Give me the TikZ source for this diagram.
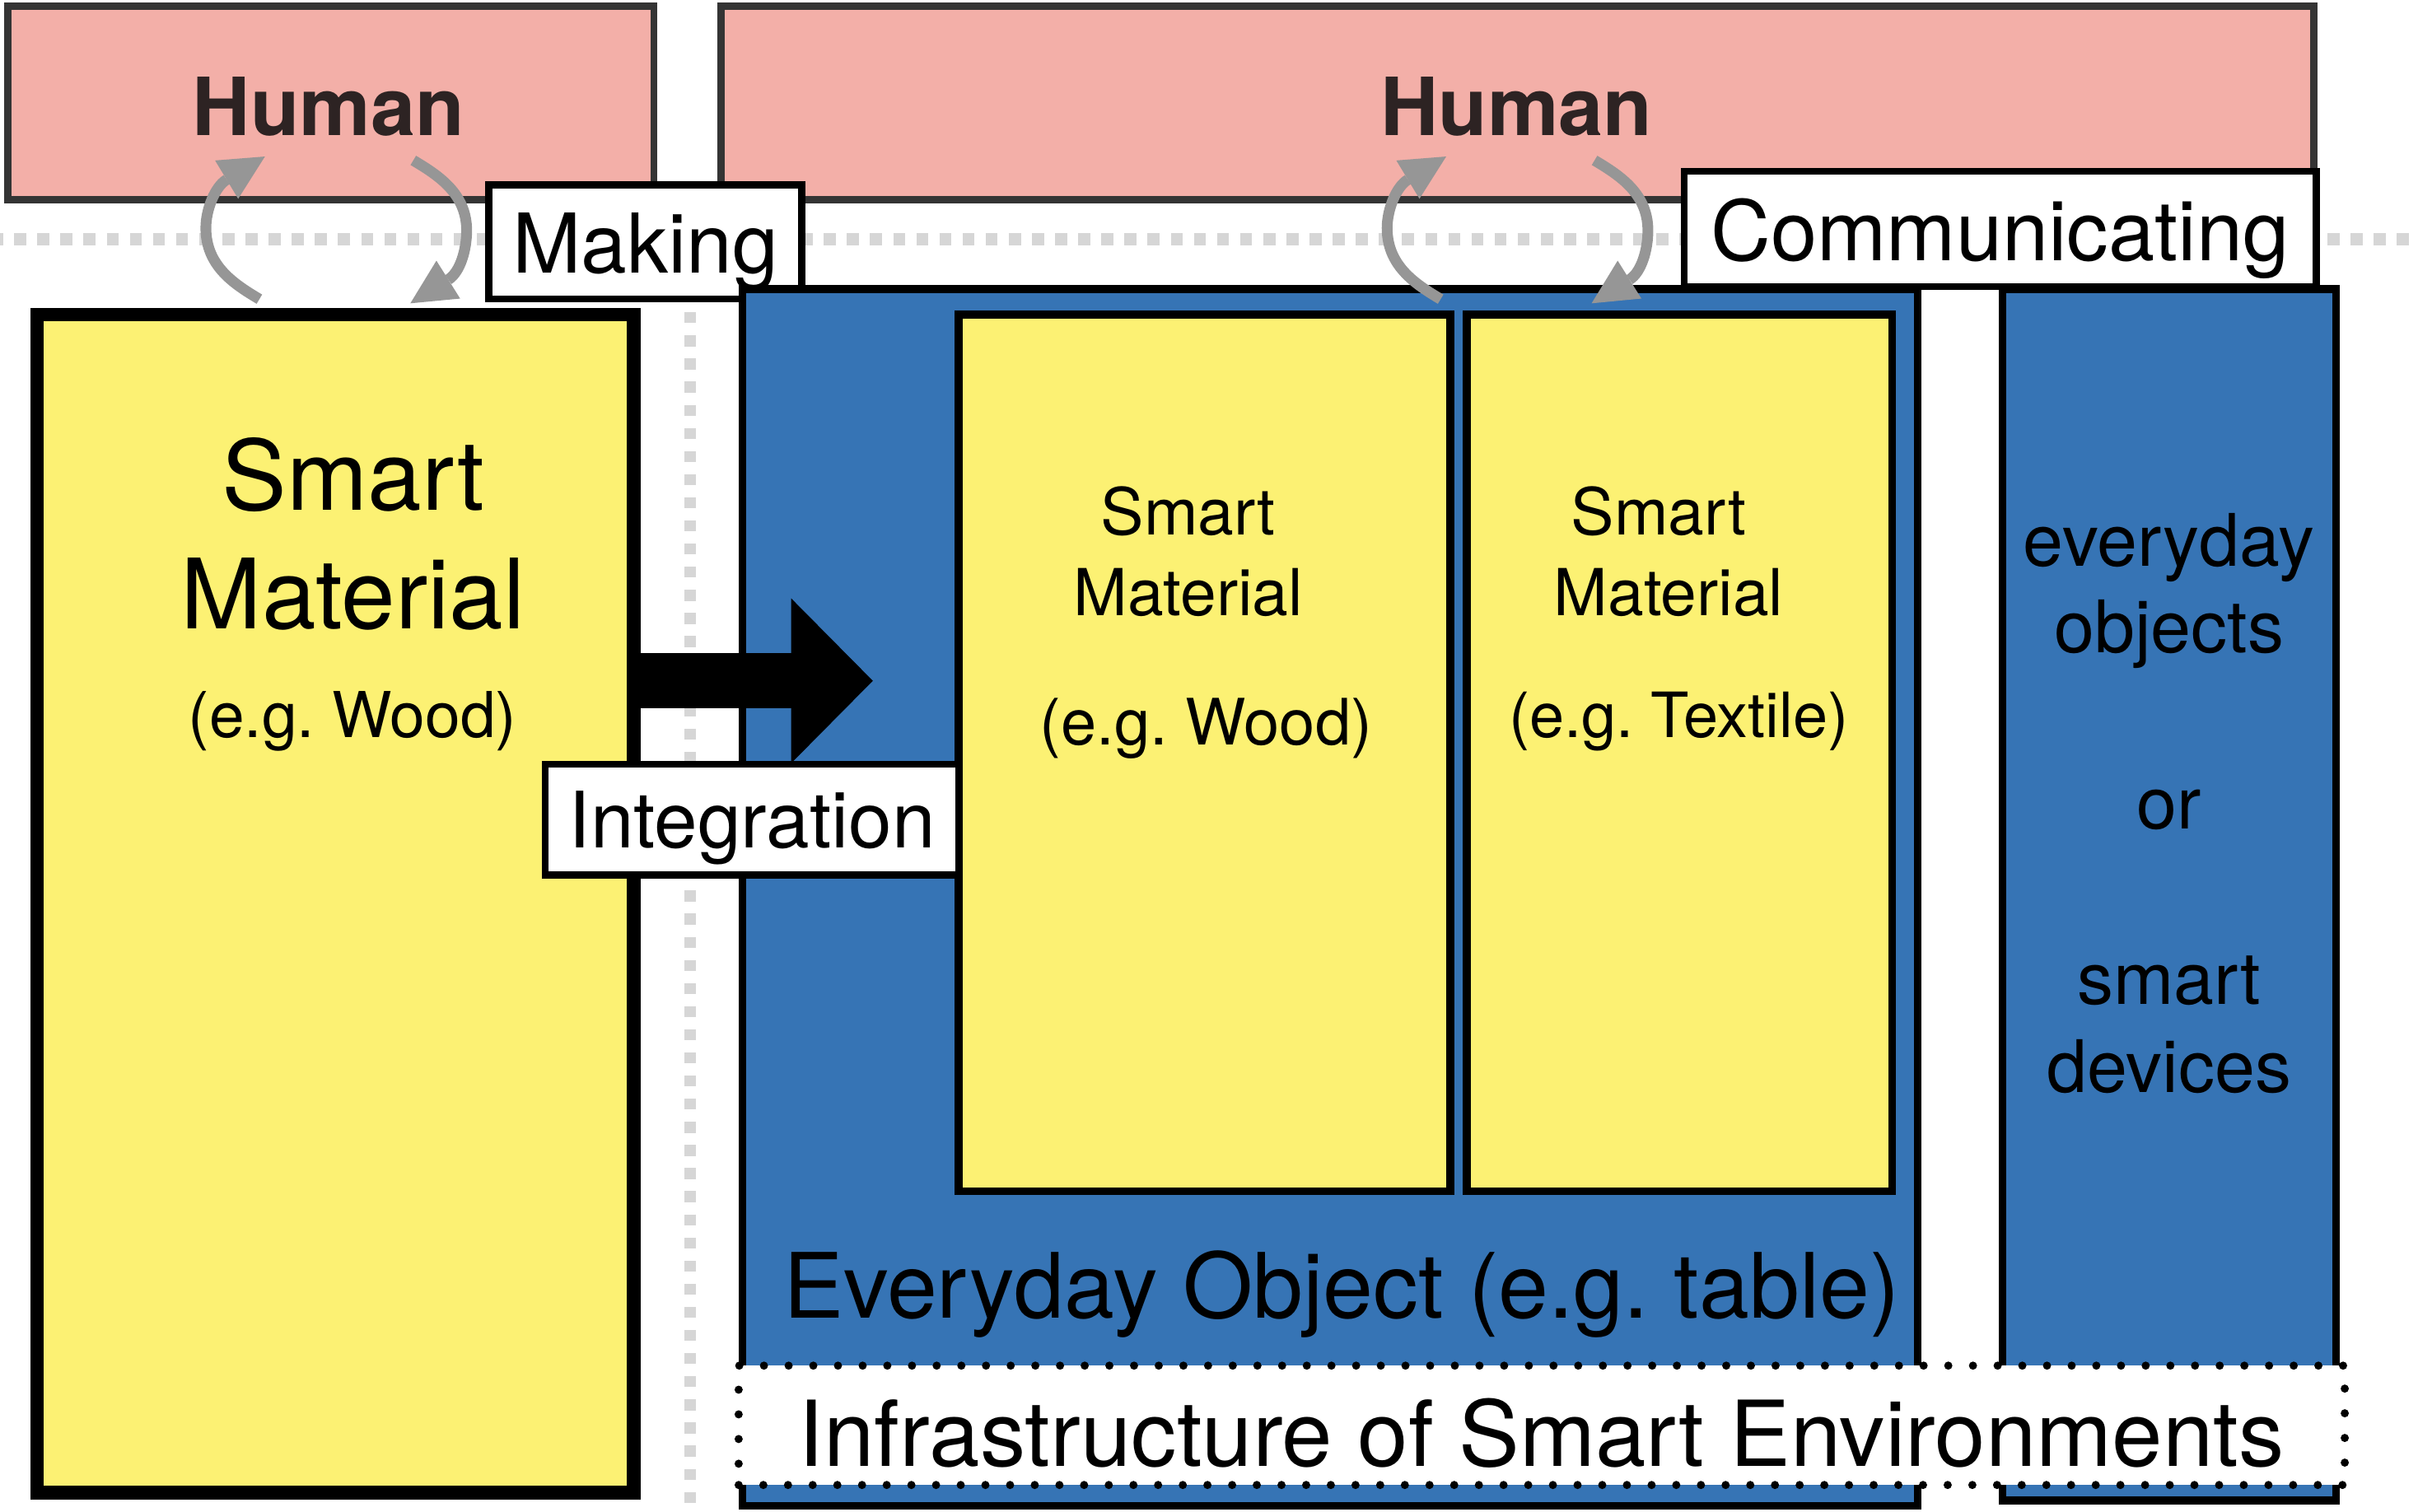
\documentclass[tikz,border=0pt]{standalone}
\usepackage{fontspec}
\setmainfont{TeX Gyre Heros}
\usetikzlibrary{arrows.meta}
\frenchspacing
\definecolor{humanpink}{HTML}{F3AFA8}
\definecolor{humanedge}{HTML}{343434}
\definecolor{humantext}{HTML}{2D2323}
\definecolor{matyellow}{HTML}{FCF173}
\definecolor{objblue}{HTML}{3674B5}
\definecolor{cycgray}{HTML}{969696}
\definecolor{sepgray}{HTML}{D6D6D6}
\begin{document}
\frenchspacing
\begin{tikzpicture}[x=1pt,y=-1pt,
  fs/.style={font=\fontsize{#1pt}{#1pt}\selectfont},
  fsb/.style={font=\fontsize{#1pt}{#1pt}\selectfont\bfseries},
  plainbox/.style={draw, rectangle, inner sep=0pt, outer sep=0pt},
  humanbox/.style={plainbox, fill=humanpink, draw=humanedge, line width=4.7pt},
  labelbox/.style={plainbox, fill=white, draw=black, line width=4.5pt},
  matbox/.style={plainbox, fill=matyellow, draw=black},
  objbox/.style={plainbox, fill=objblue, draw=black, line width=5pt},
  infrabox/.style={plainbox, fill=white, draw=black, line width=5.3pt, line cap=round, dash pattern=on 0pt off 16pt},
  txt/.style={anchor=base, inner sep=0pt, text=black},
  sepline/.style={draw=sepgray, line width=7.8pt},
  cyc/.style={draw=cycgray, line width=7pt, -{Triangle[length=29pt,width=29pt,line width=0pt]}},
  bigarrow/.style={draw=black, line width=36pt, -{Triangle[length=53pt,width=107pt,line width=0pt]}}
]
\useasboundingbox (0,0) rectangle (1568,980.5);

% separator lines
\draw[sepline, dash pattern=on 7.8pt off 7.2pt, dash phase=5.8pt] (0,155.3) -- (1568,155.3);
\draw[sepline, line width=7.5pt, dash pattern=on 7.1pt off 7.9pt, dash phase=12.5pt] (447.5,200) -- (447.5,975);

% human boxes
\node[humanbox, minimum width=419pt, minimum height=125.5pt] (humanBoxL) at (214.5,66.75) {};
\node[humanbox, minimum width=1033pt, minimum height=125.5pt] (humanBoxR) at (984,66.75) {};

% label boxes on top
\node[labelbox, minimum width=203pt, minimum height=74pt] (makingBox) at (418.5,157) {};
\node[labelbox, minimum width=410pt, minimum height=75pt] (commBox) at (1297,148.5) {};

% left smart material
\node[matbox, line width=9pt, minimum width=387pt, minimum height=764pt] (matBox) at (217.5,586) {};

% everyday object and devices
\node[objbox, minimum width=762pt, minimum height=789pt] (objBox) at (862.5,582) {};
\node[objbox, minimum width=216.4pt, minimum height=785.5pt] (devBox) at (1406.8,580.25) {};

% inner smart materials
\node[matbox, line width=5.3pt, minimum width=319pt, minimum height=568.5pt] (woodBox) at (781,488.25) {};
\node[matbox, line width=5.3pt, minimum width=276pt, minimum height=568.5pt] (textileBox) at (1089,488.25) {};

% integration arrow
\coordinate (integStart) at (411,441.5);
\coordinate (integTip) at (566,441.5);
\draw[bigarrow] (integStart) -- (integTip);
\node[labelbox, minimum width=268.5pt, minimum height=72pt] (integBox) at (487.75,531.5) {};

% infrastructure
\node[infrabox, minimum width=1041.5pt, minimum height=77.4pt] (infraBox) at (999.75,924.3) {};

% cyclic arrows (making / communicating)
\foreach \dx/\nm in {0/A, 766/B} {
  \begin{scope}[xshift=\dx pt]
    \coordinate (upStart\nm) at (168.2,194);
    \coordinate (upMid\nm) at (133.5,147.8);
    \coordinate (upTip\nm) at (171.8,101.5);
    \coordinate (dnStart\nm) at (268,104);
    \coordinate (dnMid\nm) at (302.6,149.5);
    \coordinate (dnTip\nm) at (266.1,196.7);
    \draw[cyc] (upStart\nm) .. controls (151,183.8) and (133.5,172) .. (upMid\nm)
               .. controls (133.5,136) and (139.3,121.1) .. (upTip\nm);
    \draw[cyc] (dnStart\nm) .. controls (285.2,114.2) and (302.6,126) .. (dnMid\nm)
               .. controls (302.6,162) and (298.4,176.5) .. (dnTip\nm);
  \end{scope}
}

% texts
\node[txt, fsb=52, text=humantext] (humanL) at (213,88) {Human};
\node[txt, fsb=52, text=humantext] (humanR) at (983.3,88) {Human};
\node[txt, fs=53.5] (makingT) at (418.5,177) {Making};
\node[txt, fs=54] (commT) at (1297,169) {Communicating};
\node[txt, fs=50.5] (integT) at (487.75,550) {Integration};

\node[txt, fs=63] (matT1) at (229,331) {Smart};
\node[txt, fs=63] (matT2) at (229,407.7) {Material};
\node[txt, fs=41] (matT3) at (228.5,478) {(e.g. Wood)};

\node[txt, fs=42] (woodT1) at (770.5,347) {Smart};
\node[txt, fs=42] (woodT2) at (770.5,399) {Material};
\node[txt, fs=41.5] (woodT3) at (782,483) {(e.g. Wood)};

\node[txt, fs=42] (texT1) at (1075.5,347) {Smart};
\node[txt, fs=42] (texT2) at (1082,399) {Material};
\node[txt, fs=40.5] (texT3) at (1088.5,478) {(e.g. Textile)};

\node[txt, fs=47] (devT1) at (1406.5,367) {everyday};
\node[txt, fs=47] (devT2) at (1406.5,423) {objects};
\node[txt, fs=47] (devT3) at (1406.5,537.5) {or};
\node[txt, fs=47] (devT4) at (1406.5,651.5) {smart};
\node[txt, fs=47] (devT5) at (1406.5,708.5) {devices};

\node[txt, fs=58.5] (objT) at (870,854.5) {Everyday Object (e.g. table)};
\node[txt, fs=59] (infraT) at (999.5,951) {Infrastructure of Smart Environments};
\end{tikzpicture}
\end{document}
